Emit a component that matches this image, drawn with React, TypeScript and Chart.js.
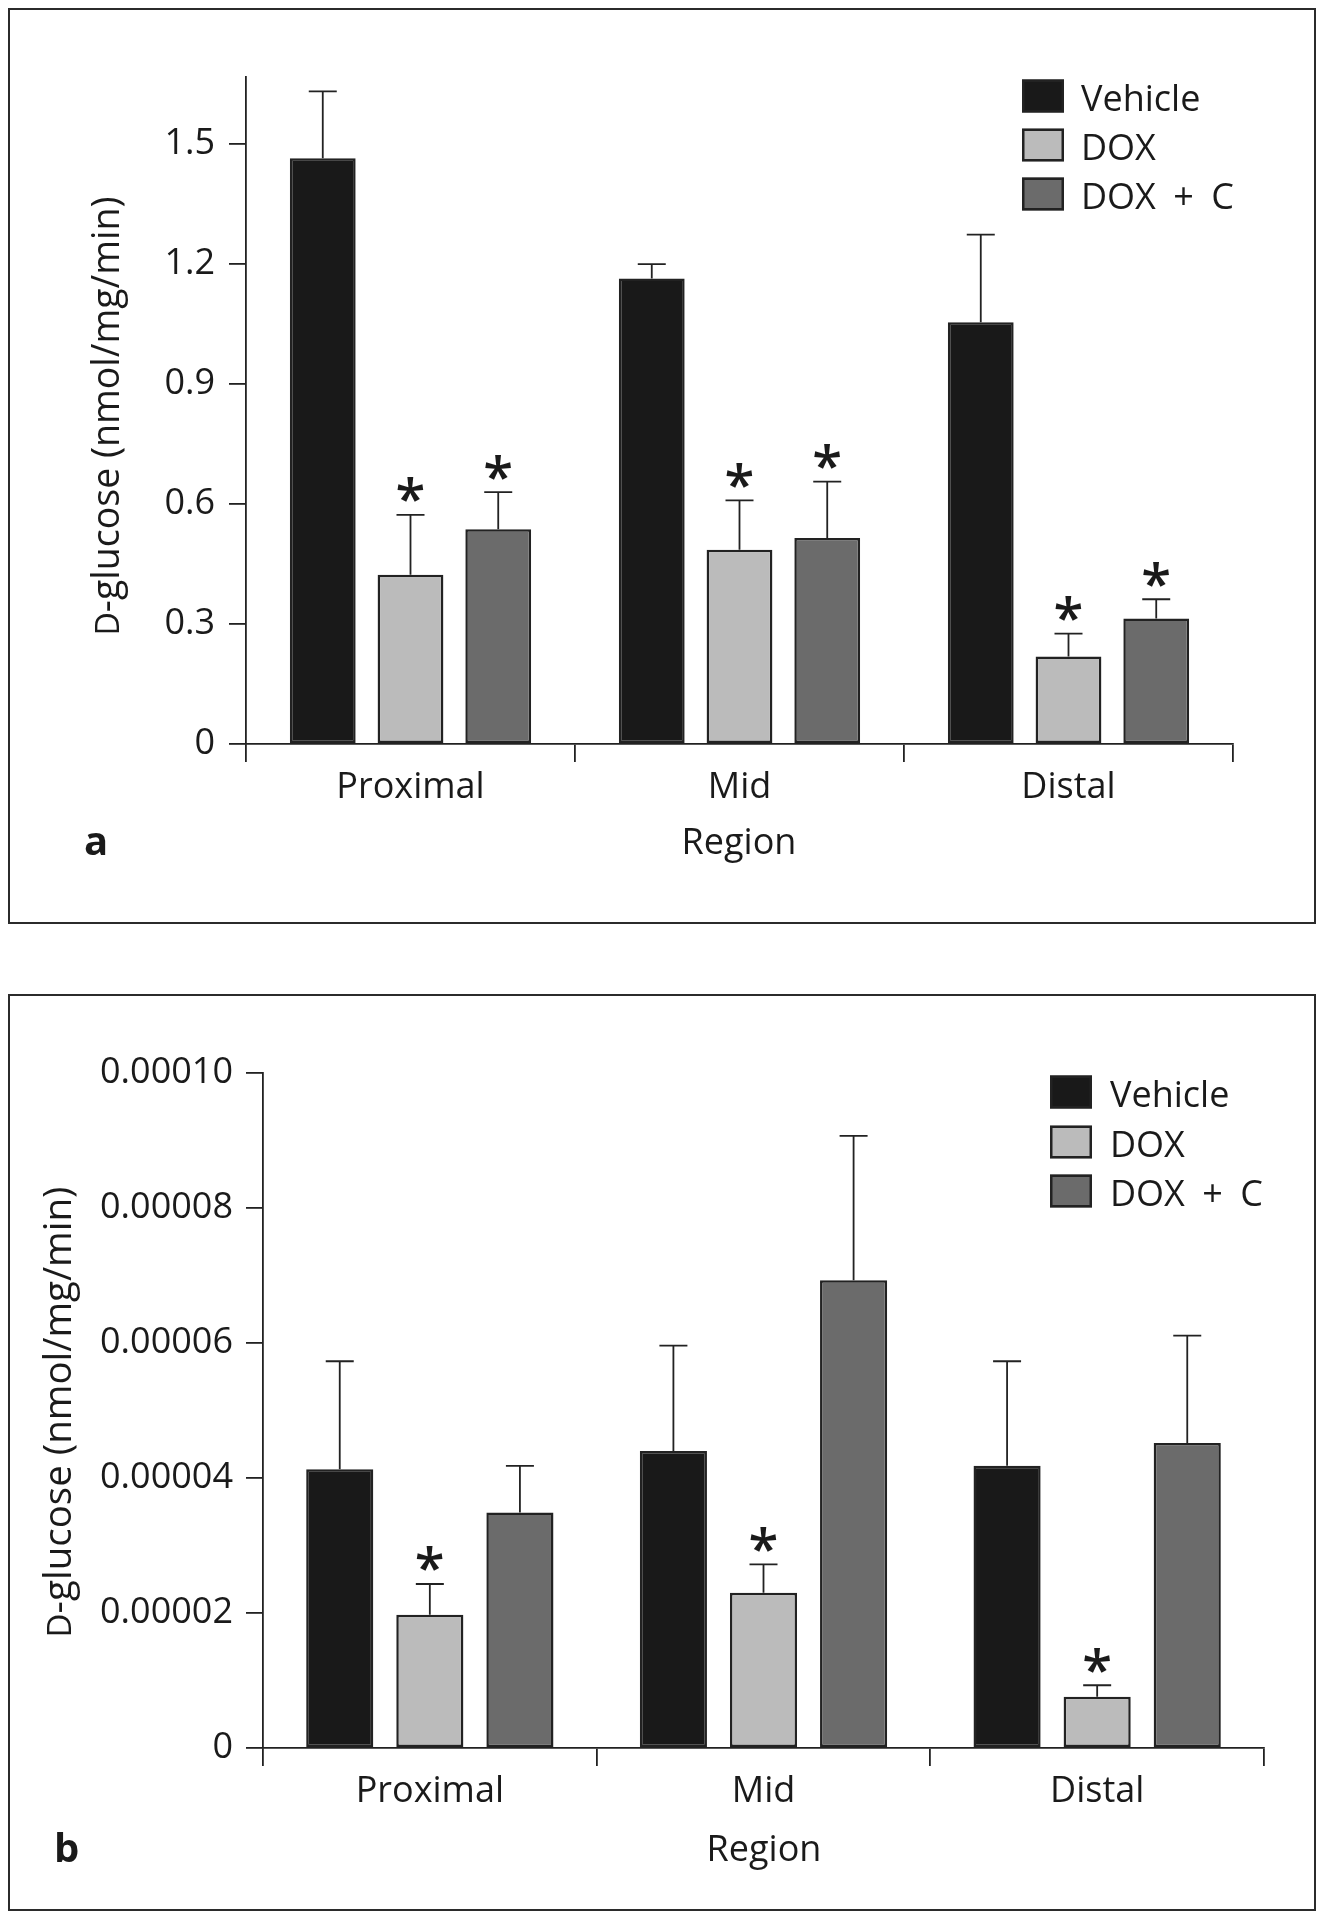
import React, { useEffect, useRef } from "react";
import { Chart, registerables } from "chart.js";

Chart.register(...registerables);

// ---------- data ----------
const categories = ["Proximal", "Mid", "Distal"];
const seriesNames = ["Vehicle", "DOX", "DOX + C"];
const seriesColors = ["#191919", "#bbbbbb", "#6b6b6b"];

// Panel a (nmol/mg/min)
const aVehicle = [1.465, 1.164, 1.055];
const aDox = [0.423, 0.486, 0.219];
const aDoxC = [0.537, 0.515, 0.314];
const aVehicleErr = [0.167, 0.036, 0.219];
const aDoxErr = [0.15, 0.123, 0.057];
const aDoxCErr = [0.093, 0.141, 0.048];
const aVehicleSig = [false, false, false];
const aDoxSig = [true, true, true];
const aDoxCSig = [true, true, true];
const aTickValues = [0, 0.3, 0.6, 0.9, 1.2, 1.5];
const aTickLabels = ["0", "0.3", "0.6", "0.9", "1.2", "1.5"];
const aYMax = 1.668;

// Panel b (nmol/mg/min)
const bVehicle = [0.0000413, 0.000044, 0.0000418];
const bDox = [0.00001975, 0.000023, 0.0000076];
const bDoxC = [0.0000349, 0.0000693, 0.0000452];
const bVehicleErr = [0.000016, 0.0000156, 0.0000155];
const bDoxErr = [0.00000455, 0.0000042, 0.0000017];
const bDoxCErr = [0.0000069, 0.0000214, 0.0000159];
const bVehicleSig = [false, false, false];
const bDoxSig = [true, true, true];
const bDoxCSig = [false, false, false];
const bTickValues = [0, 0.00002, 0.00004, 0.00006, 0.00008, 0.0001];
const bTickLabels = ["0", "0.00002", "0.00004", "0.00006", "0.00008", "0.00010"];
const bYMax = 0.0001;

const yTitleSmall = "D";
const yTitleRest = "-glucose (nmol/mg/min)";
const xTitle = "Region";

// ---------- styling ----------
const FONT = '"Open Sans", "DejaVu Sans", sans-serif';
const TEXT = "#1a1a1a";
const AXIS = "#222222";

type PanelSpec = {
  letter: string;
  series: number[][];
  errors: number[][];
  sig: boolean[][];
  yMax: number;
  tickValues: number[];
  tickLabels: string[];
  top: number;
  outerH: number;
  padTop: number;
  padRight: number;
  yAxisWidth: number;
  xAxisHeight: number;
  catPct: number;
  barPct: number;
  yTickPad: number;
  titleBaseX: number;
  titleCenterY: number;
  titleSize: number;
  legendBoxX: number;
  legendRows: number[];
  legendTextX: number;
  regionX: number;
  regionY: number;
  letterX: number;
  letterY: number;
};

const OUTER_W = 1308;
const BORDER = 2;

const panels: PanelSpec[] = [
  {
    letter: "a",
    series: [aVehicle, aDox, aDoxC],
    errors: [aVehicleErr, aDoxErr, aDoxCErr],
    sig: [aVehicleSig, aDoxSig, aDoxCSig],
    yMax: aYMax,
    tickValues: aTickValues,
    tickLabels: aTickLabels,
    top: 0,
    outerH: 916,
    padTop: 67,
    padRight: 81,
    yAxisWidth: 236,
    xAxisHeight: 178,
    catPct: 0.8,
    barPct: 0.75,
    yTickPad: 14,
    titleBaseX: 109,
    titleCenterY: 406,
    titleSize: 37.5,
    legendBoxX: 1012,
    legendRows: [86, 135, 184],
    legendTextX: 1071,
    regionX: 729,
    regionY: 844,
    letterX: 74,
    letterY: 845,
  },
  {
    letter: "b",
    series: [bVehicle, bDox, bDoxC],
    errors: [bVehicleErr, bDoxErr, bDoxCErr],
    sig: [bVehicleSig, bDoxSig, bDoxCSig],
    yMax: bYMax,
    tickValues: bTickValues,
    tickLabels: bTickLabels,
    top: 986,
    outerH: 917,
    padTop: 77,
    padRight: 50,
    yAxisWidth: 253,
    xAxisHeight: 161,
    catPct: 0.81,
    barPct: 0.745,
    yTickPad: 13,
    titleBaseX: 61,
    titleCenterY: 416,
    titleSize: 38.5,
    legendBoxX: 1040,
    legendRows: [96, 146, 195],
    legendTextX: 1100,
    regionX: 754,
    regionY: 865,
    letterX: 44,
    letterY: 866,
  },
];

function makeOverlay(p: PanelSpec) {
  return {
    id: "overlay_" + p.letter,
    afterDatasetsDraw(chart: any) {
      const ctx: CanvasRenderingContext2D = chart.ctx;
      const yScale = chart.scales.y;
      ctx.save();
      ctx.strokeStyle = AXIS;
      ctx.lineWidth = 1.8;
      const capHalf = 14;
      const astFont = (s: number) => `600 ${s}px ${FONT}`;
      ctx.font = astFont(100);
      const m100 = ctx.measureText("*");
      const h100 = m100.actualBoundingBoxAscent + m100.actualBoundingBoxDescent;
      const astSize = (100 * 25) / (h100 || 30);
      p.series.forEach((vals, di) => {
        const meta = chart.getDatasetMeta(di);
        vals.forEach((v, j) => {
          const el = meta.data[j];
          const x = el.x;
          const yBar = yScale.getPixelForValue(v);
          const yTop = yScale.getPixelForValue(v + p.errors[di][j]);
          ctx.beginPath();
          ctx.moveTo(x, yBar);
          ctx.lineTo(x, yTop);
          ctx.moveTo(x - capHalf, yTop);
          ctx.lineTo(x + capHalf, yTop);
          ctx.stroke();
          if (p.sig[di][j]) {
            ctx.font = astFont(astSize);
            const m = ctx.measureText("*");
            const asc = m.actualBoundingBoxAscent;
            const desc = m.actualBoundingBoxDescent;
            const l = m.actualBoundingBoxLeft;
            const r = m.actualBoundingBoxRight;
            const cy = yTop - 25;
            const base = cy - (desc - asc) / 2;
            ctx.fillStyle = TEXT;
            ctx.textAlign = "left";
            ctx.textBaseline = "alphabetic";
            ctx.fillText("*", x - (r - l) / 2, base);
          }
        });
      });
      ctx.restore();
    },
    afterDraw(chart: any) {
      const ctx: CanvasRenderingContext2D = chart.ctx;
      ctx.save();
      // legend
      ctx.textAlign = "left";
      ctx.textBaseline = "alphabetic";
      seriesNames.forEach((name, i) => {
        const cy = p.legendRows[i];
        ctx.fillStyle = seriesColors[i];
        ctx.fillRect(p.legendBoxX, cy - 16.5, 42, 33);
        ctx.strokeStyle = AXIS;
        ctx.lineWidth = 2.5;
        ctx.strokeRect(p.legendBoxX + 1.25, cy - 16.5 + 1.25, 42 - 2.5, 33 - 2.5);
        ctx.fillStyle = TEXT;
        ctx.font = `36px ${FONT}`;
        (ctx as any).wordSpacing = "8px";
        ctx.fillText(name, p.legendTextX, cy + 15);
        (ctx as any).wordSpacing = "0px";
      });
      // y title
      ctx.save();
      ctx.translate(p.titleBaseX, p.titleCenterY);
      ctx.rotate(-Math.PI / 2);
      const smallSize = p.titleSize * 0.86;
      ctx.font = `${smallSize}px ${FONT}`;
      const w1 = ctx.measureText(yTitleSmall).width;
      ctx.font = `${p.titleSize}px ${FONT}`;
      const w2 = ctx.measureText(yTitleRest).width;
      const start = -(w1 + w2) / 2;
      ctx.fillStyle = TEXT;
      ctx.textBaseline = "alphabetic";
      ctx.font = `${smallSize}px ${FONT}`;
      ctx.fillText(yTitleSmall, start, 0);
      ctx.font = `${p.titleSize}px ${FONT}`;
      ctx.fillText(yTitleRest, start + w1, 0);
      ctx.restore();
      // x title
      ctx.fillStyle = TEXT;
      ctx.font = `36px ${FONT}`;
      ctx.textAlign = "center";
      ctx.fillText(xTitle, p.regionX, p.regionY);
      // panel letter
      ctx.font = `bold 40px ${FONT}`;
      ctx.textAlign = "left";
      ctx.fillText(p.letter, p.letterX, p.letterY);
      ctx.restore();
    },
  };
}

function Panel({ p }: { p: PanelSpec }) {
  const ref = useRef<HTMLCanvasElement | null>(null);
  const cw = OUTER_W - 2 * BORDER;
  const ch = p.outerH - 2 * BORDER;
  useEffect(() => {
    if (!ref.current) return;
    const chart = new Chart(ref.current, {
      type: "bar",
      data: {
        labels: categories,
        datasets: p.series.map((vals, i) => ({
          label: seriesNames[i],
          data: vals,
          backgroundColor: seriesColors[i],
          borderColor: AXIS,
          borderWidth: 2.5,
          borderSkipped: false,
          barPercentage: p.barPct,
          categoryPercentage: p.catPct,
        })),
      },
      options: {
        responsive: false,
        animation: false,
        devicePixelRatio: 1,
        layout: { padding: { top: p.padTop, right: p.padRight, left: 0, bottom: 0 } },
        plugins: {
          legend: { display: false },
          tooltip: { enabled: false },
          title: { display: false },
        },
        scales: {
          x: {
            type: "category",
            offset: true,
            grid: {
              offset: true,
              display: true,
              drawOnChartArea: false,
              drawTicks: true,
              tickLength: 18,
              color: AXIS,
              lineWidth: 1.8,
            },
            border: { display: true, color: AXIS, width: 1.8 },
            ticks: {
              font: { family: FONT, size: 36 },
              color: TEXT,
              padding: 4,
              maxRotation: 0,
              autoSkip: false,
            },
            afterFit: (s: any) => {
              s.height = p.xAxisHeight;
            },
          },
          y: {
            type: "linear",
            min: 0,
            max: p.yMax,
            grid: {
              display: true,
              drawOnChartArea: false,
              drawTicks: true,
              tickLength: 17,
              color: AXIS,
              lineWidth: 1.8,
            },
            border: { display: true, color: AXIS, width: 1.8 },
            ticks: {
              font: { family: FONT, size: 36 },
              color: TEXT,
              padding: p.yTickPad,
              callback: (_v: any, i: number) => p.tickLabels[i] ?? "",
            },
            afterBuildTicks: (s: any) => {
              s.ticks = p.tickValues.map((v) => ({ value: v }));
            },
            afterFit: (s: any) => {
              s.width = p.yAxisWidth;
            },
          },
        },
      } as any,
      plugins: [makeOverlay(p)],
    });
    return () => chart.destroy();
  }, [p]);
  return (
    <div
      style={{
        position: "absolute",
        left: 0,
        top: p.top,
        width: OUTER_W,
        height: p.outerH,
        border: `${BORDER}px solid #2b2b2b`,
        boxSizing: "border-box",
        background: "#fff",
      }}
    >
      <canvas ref={ref} width={cw} height={ch} style={{ display: "block", width: cw, height: ch }} />
    </div>
  );
}

export default function App() {
  return (
    <div style={{ position: "relative", width: OUTER_W, height: 1904 }}>
      {panels.map((p) => (
        <Panel key={p.letter} p={p} />
      ))}
    </div>
  );
}
